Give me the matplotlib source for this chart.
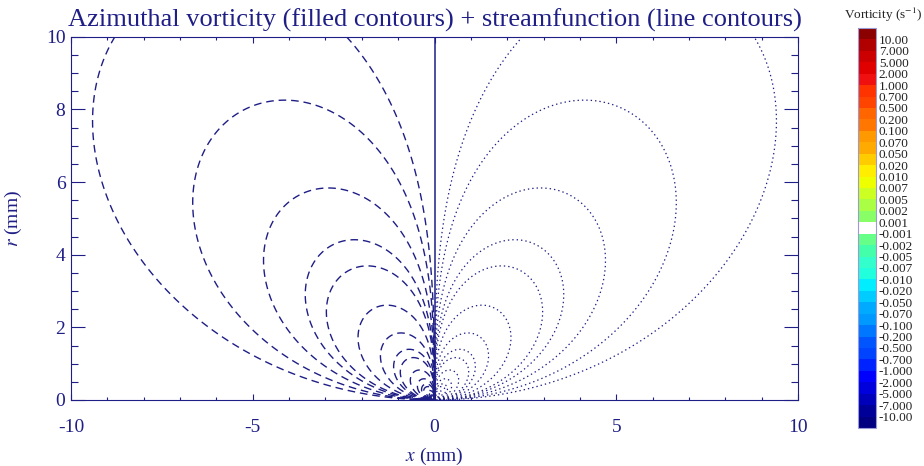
import matplotlib
matplotlib.use('Agg')
import matplotlib.pyplot as plt
from matplotlib.colors import ListedColormap, Normalize
from matplotlib.cm import ScalarMappable
from matplotlib.ticker import MultipleLocator
import numpy as np

plt.rcParams['font.family'] = 'serif'
plt.rcParams['font.serif'] = ['Liberation Serif', 'DejaVu Serif']
plt.rcParams['mathtext.fontset'] = 'stix'
plt.rcParams['axes.unicode_minus'] = False
plt.rcParams['lines.dashed_pattern'] = [5.5, 3.5]
plt.rcParams['lines.dotted_pattern'] = [1.1, 2.4]

NAVY = '#1e1e86'

# streamfunction levels (positive side, mirrored negative on the left)
psi_levels = [0.001, 0.002, 0.004, 0.007, 0.01, 0.02, 0.04, 0.07,
              0.1, 0.2, 0.4, 0.7, 1.0, 2.0, 4.0, 7.0, 10.0]
dipole_strength = 0.476

# colourbar boundaries and box colours, bottom to top
vort_labels = ['-10.00', '-7.000', '-5.000', '-2.000', '-1.000', '-0.700', '-0.500',
               '-0.200', '-0.100', '-0.070', '-0.050', '-0.020', '-0.010', '-0.007',
               '-0.005', '-0.002', '-0.001', '0.001', '0.002', '0.005', '0.007',
               '0.010', '0.020', '0.050', '0.070', '0.100', '0.200', '0.500',
               '0.700', '1.000', '2.000', '5.000', '7.000', '10.00']
vort_colors = ['#000080', '#000099', '#0000bb', '#0000dd', '#0000ff', '#0022ff',
               '#0044ff', '#0055ff', '#0077ff', '#0099ff', '#00aaff', '#00ccff',
               '#00eeff', '#22ffdd', '#33ffcc', '#44ffaa', '#66ff88', '#ffffff',
               '#88ff66', '#aaff44', '#ccff22', '#eeff00', '#ffee00', '#ffcc00',
               '#ffaa00', '#ff9900', '#ff7700', '#ff6600', '#ff4400', '#ff3300',
               '#f01010', '#e00000', '#cc0000', '#b00000', '#8b0000']

x = np.linspace(-10, 10, 1400)
r = np.linspace(0, 10, 700)
X, R = np.meshgrid(x, r)
psi = dipole_strength * X * R**2 / (X**2 + R**2)**2.5

fig = plt.figure(figsize=(9.24, 4.66), dpi=100)
W, H = 924.0, 466.0
ax = fig.add_axes([71/W, 1 - 400/H, 727/W, 363.3/H])

neg = sorted([-v for v in psi_levels])
ax.contour(X, R, psi, levels=neg, colors=NAVY, linewidths=1.0, linestyles='dashed')
ax.contour(X, R, psi, levels=psi_levels, colors=NAVY, linewidths=0.9, linestyles='dotted')
ax.axvline(0, color=NAVY, lw=1.1)

ax.set_xlim(-10, 10)
ax.set_ylim(0, 10)
ax.xaxis.set_major_locator(MultipleLocator(5))
ax.xaxis.set_minor_locator(MultipleLocator(1))
ax.yaxis.set_major_locator(MultipleLocator(2))
ax.yaxis.set_minor_locator(MultipleLocator(0.5))
ax.tick_params(axis='x', which='major', direction='in', length=4.5, width=0.8,
               top=True, color=NAVY, labelcolor=NAVY, labelsize=14, pad=14)
ax.tick_params(axis='x', which='minor', direction='in', length=2.5, width=0.8,
               top=True, color=NAVY)
ax.tick_params(axis='y', which='major', direction='in', length=10, width=0.8,
               right=True, color=NAVY, labelcolor=NAVY, labelsize=14, pad=4)
ax.tick_params(axis='y', which='minor', direction='in', length=5, width=0.8,
               right=True, color=NAVY)
for sp in ax.spines.values():
    sp.set_color(NAVY)
    sp.set_linewidth(0.8)

ax.set_xlabel('$x$ (mm)', color=NAVY, fontsize=14, labelpad=7)
ax.set_ylabel('$r$ (mm)', color=NAVY, fontsize=14, labelpad=16)
ax.set_title('Azimuthal vorticity (filled contours) + streamfunction (line contours)',
             color=NAVY, fontsize=19, pad=7)

# colour bar with equal boxes, labels on the box edges
cax = fig.add_axes([858/W, 1 - 428/H, 18/W, 400/H])
nbox = len(vort_colors)
sm = ScalarMappable(norm=Normalize(0, nbox), cmap=ListedColormap(vort_colors))
cb = fig.colorbar(sm, cax=cax, boundaries=np.arange(nbox + 1),
                  ticks=np.arange(1, nbox))
cb.ax.set_yticklabels(vort_labels)
cb.ax.tick_params(length=0, labelsize=9.5, pad=2, labelcolor='#222222')
cb.outline.set_edgecolor('#9a9ad6')
cb.outline.set_linewidth(0.8)
fig.text(883/W, 1 - 15/H, 'Vorticity (s$^{-1}$)', ha='center', va='center',
         fontsize=9.5, color='#222222')

fig.savefig('out.png', dpi=100)
